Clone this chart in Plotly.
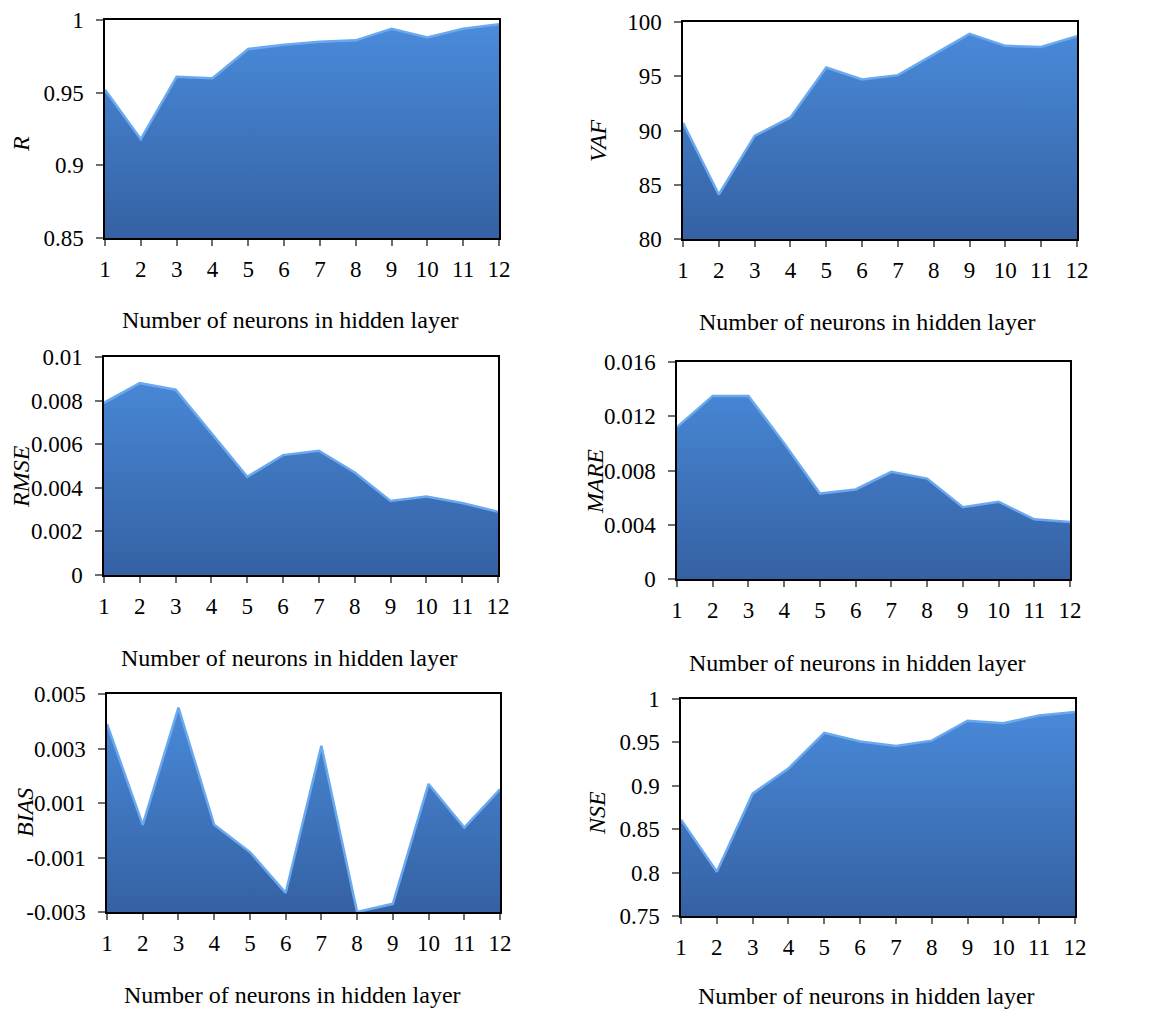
import plotly.graph_objects as go

# Number of neurons in the hidden layer (x axis of every panel)
neurons = list(range(1, 13))

# Performance indices for each network size
r_values = [0.952, 0.918, 0.961, 0.960, 0.980, 0.983, 0.985, 0.986, 0.994, 0.988, 0.994, 0.997]
vaf_values = [90.7, 84.1, 89.5, 91.2, 95.8, 94.7, 95.1, 97.0, 98.9, 97.8, 97.7, 98.7]
rmse_values = [0.0079, 0.0088, 0.0085, 0.0065, 0.0045, 0.0055, 0.0057, 0.0047, 0.0034, 0.0036, 0.0033, 0.0029]
mare_values = [0.0112, 0.0135, 0.0135, 0.0100, 0.0063, 0.0066, 0.0079, 0.0074, 0.0053, 0.0057, 0.0044, 0.0042]
bias_values = [0.0039, 0.0002, 0.0045, 0.0002, -0.0008, -0.0023, 0.0031, -0.0030, -0.0027, 0.0017, 0.0001, 0.0015]
nse_values = [0.861, 0.801, 0.891, 0.920, 0.961, 0.951, 0.946, 0.952, 0.975, 0.972, 0.981, 0.985]

# Y-axis tick values and labels per panel
r_ticks = [0.85, 0.9, 0.95, 1.0]
r_labels = ["0.85", "0.9", "0.95", "1"]
vaf_ticks = [80, 85, 90, 95, 100]
vaf_labels = ["80", "85", "90", "95", "100"]
rmse_ticks = [0, 0.002, 0.004, 0.006, 0.008, 0.01]
rmse_labels = ["0", "0.002", "0.004", "0.006", "0.008", "0.01"]
mare_ticks = [0, 0.004, 0.008, 0.012, 0.016]
mare_labels = ["0", "0.004", "0.008", "0.012", "0.016"]
bias_ticks = [-0.003, -0.001, 0.001, 0.003, 0.005]
bias_labels = ["-0.003", "-0.001", "0.001", "0.003", "0.005"]
nse_ticks = [0.75, 0.8, 0.85, 0.9, 0.95, 1.0]
nse_labels = ["0.75", "0.8", "0.85", "0.9", "0.95", "1"]

x_title = "Number of neurons in hidden layer"

W, H = 1150, 1011
FONT = "Liberation Serif"

panels = [
    # name, values, ticks, labels, plot box (left, top, right, bottom) px,
    # y-title centre (x, y) px, x-title centre (x, y) px
    ("R", r_values, r_ticks, r_labels, (105, 20, 499, 238), (21, 144), (290, 320)),
    ("VAF", vaf_values, vaf_ticks, vaf_labels, (683, 22, 1077, 239), (598, 141), (867, 322)),
    ("RMSE", rmse_values, rmse_ticks, rmse_labels, (104, 357, 498, 575), (21, 477), (289, 658)),
    ("MARE", mare_values, mare_ticks, mare_labels, (677, 362, 1070, 579), (595, 482), (857, 663)),
    ("BIAS", bias_values, bias_ticks, bias_labels, (107, 694, 500, 912), (25, 813), (292, 995)),
    ("NSE", nse_values, nse_ticks, nse_labels, (681, 699, 1075, 916), (597, 813), (866, 996)),
]

fig = go.Figure()
annotations = []

for i, (name, vals, ticks, labels, box, ytitle, xtitle) in enumerate(panels, start=1):
    xa = "x" if i == 1 else f"x{i}"
    ya = "y" if i == 1 else f"y{i}"
    ymin, ymax = ticks[0], ticks[-1]

    # baseline at the bottom of the axis so the area fills down to it
    fig.add_trace(go.Scatter(
        x=neurons, y=[ymin] * len(neurons), mode="lines",
        line=dict(width=0, color="rgba(0,0,0,0)"),
        hoverinfo="skip", showlegend=False, xaxis=xa, yaxis=ya,
    ))
    fig.add_trace(go.Scatter(
        x=neurons, y=vals, mode="lines", fill="tonexty",
        fillgradient=dict(
            type="vertical",
            colorscale=[[0, "#3561a3"], [1, "#4a8cdc"]],
            start=ymin, stop=ymax,
        ),
        line=dict(width=2.5, color="#6aa9f0"),
        showlegend=False, name=name, xaxis=xa, yaxis=ya,
    ))

    l, t, r, b = box
    axis_common = dict(
        showgrid=False, zeroline=False, automargin=False,
        showline=True, linecolor="black", linewidth=1.5, mirror=True,
        ticks="outside", tickcolor="#6e6e6e", tickwidth=1.5,
        tickfont=dict(family=FONT, size=23, color="black"),
    )
    fig.update_layout({
        f"xaxis{'' if i == 1 else i}": dict(
            axis_common, domain=[l / W, r / W], range=[1, 12],
            tickmode="array", tickvals=neurons, ticktext=[str(n) for n in neurons],
            ticklen=6, ticklabelstandoff=4, anchor=ya,
        ),
        f"yaxis{'' if i == 1 else i}": dict(
            axis_common, domain=[1 - b / H, 1 - t / H], range=[ymin, ymax],
            tickmode="array", tickvals=ticks, ticktext=labels,
            ticklen=7, ticklabelstandoff=8, anchor=xa,
        ),
    })

    annotations.append(dict(
        text=f"<i>{name}</i>", x=ytitle[0] / W, y=1 - ytitle[1] / H,
        xref="paper", yref="paper", showarrow=False, textangle=-90,
        font=dict(family=FONT, size=24, color="black"),
        xanchor="center", yanchor="middle",
    ))
    annotations.append(dict(
        text=x_title, x=xtitle[0] / W, y=1 - xtitle[1] / H,
        xref="paper", yref="paper", showarrow=False,
        font=dict(family=FONT, size=24, color="black"),
        xanchor="center", yanchor="middle",
    ))

fig.update_layout(
    template="none",
    width=W, height=H,
    margin=dict(l=0, r=0, t=0, b=0, autoexpand=False),
    paper_bgcolor="white", plot_bgcolor="white",
    annotations=annotations,
    showlegend=False,
)

fig.write_html("out.html")
